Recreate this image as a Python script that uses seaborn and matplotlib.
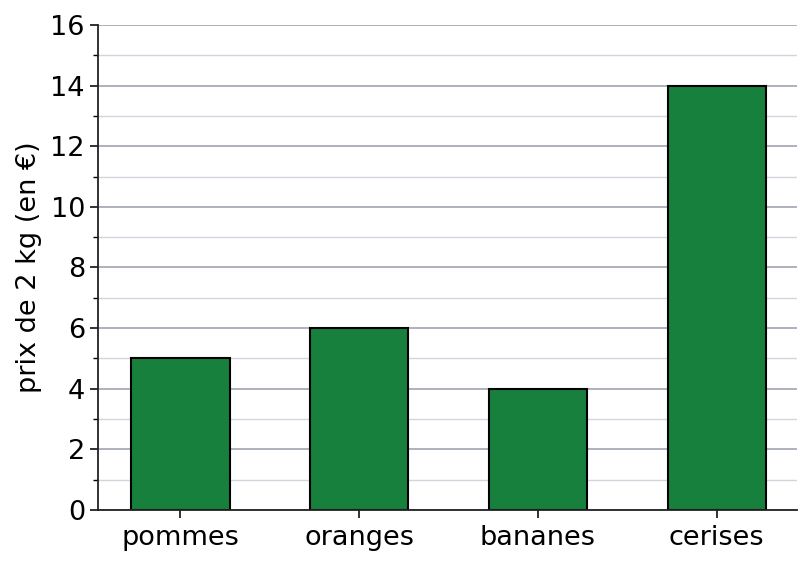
import pandas as pd
import matplotlib
matplotlib.use("Agg")
import matplotlib.pyplot as plt
from matplotlib.ticker import MultipleLocator
import seaborn as sns

# data
fruits = ["pommes", "oranges", "bananes", "cerises"]
prix = [5, 6, 4, 14]

df = pd.DataFrame({"fruit": fruits, "prix": prix})

sns.set_style("white")
plt.rcParams["font.family"] = ["DejaVu Sans"]
plt.rcParams["text.color"] = "black"
plt.rcParams["axes.labelcolor"] = "black"
plt.rcParams["xtick.color"] = "black"
plt.rcParams["ytick.color"] = "black"

fig = plt.figure(figsize=(8.11, 5.67), dpi=100)
ax = fig.add_axes([0.121, 0.1005, 0.862, 0.8555])

ax.set_axisbelow(True)
ax.yaxis.set_major_locator(MultipleLocator(2))
ax.yaxis.set_minor_locator(MultipleLocator(1))
ax.grid(which="major", axis="y", color="#a0a4b2", linewidth=1.2)
ax.grid(which="minor", axis="y", color="#d2d5de", linewidth=1.0)

sns.barplot(data=df, x="fruit", y="prix", color="#17803d", saturation=1,
            width=0.55, edgecolor="black", linewidth=1.5, ax=ax)

ax.set_ylim(0, 16)
ax.set_xlim(-0.46, 3.45)
ax.set_xlabel("")
ax.set_ylabel("prix de 2 kg (en €)", fontsize=19.5, labelpad=6)

for s in ["top", "right"]:
    ax.spines[s].set_visible(False)
for s in ["left", "bottom"]:
    ax.spines[s].set_linewidth(1.3)
    ax.spines[s].set_color("#222222")

ax.tick_params(axis="both", which="major", labelsize=19.5, length=6, width=1.3,
               color="#222222", left=True, bottom=True)
ax.tick_params(axis="x", which="major", pad=4.5)
ax.tick_params(axis="y", which="minor", length=3.5, width=1.0, left=True)

fig.savefig("out.png", dpi=100)
